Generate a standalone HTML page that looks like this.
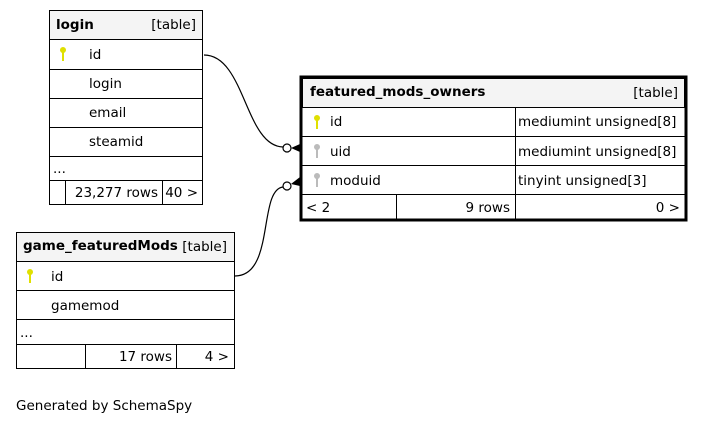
<!DOCTYPE html>
<html><head><meta charset="utf-8"><style>
html,body{margin:0;padding:0;background:#fff;}
svg text{font-family:"DejaVu Sans","Liberation Sans",sans-serif;font-size:13.5px;fill:#000;}
.b{font-weight:bold;}
</style></head><body>
<svg width="704" height="424" viewBox="0 0 704 424" xmlns="http://www.w3.org/2000/svg">
<defs>
<g id="key"><circle cx="0" cy="-4" r="3"/><rect x="-1" y="-2" width="2" height="9"/></g>
</defs>
<g fill="none" stroke="#000" stroke-width="1.2">
<path d="M204,55 C245,55 245,146 283,147"/>
<path d="M235,276 C275,276 258,190 283,187"/>
</g>
<g fill="#fff" stroke="#000" stroke-width="1.2">
<circle cx="287" cy="148" r="4"/>
<circle cx="287" cy="186" r="4"/>
</g>
<g fill="#000">
<polygon points="291,148 300,144 300,152"/>
<polygon points="291,184 300,177 300,186"/>
</g>

<g stroke="#000" stroke-width="1" fill="none">
<rect x="49.5" y="10.5" width="153" height="29" fill="#f4f4f4"/>
<rect x="49.5" y="10.5" width="153" height="194"/>
<line x1="49" y1="69.5" x2="203" y2="69.5"/>
<line x1="49" y1="98.5" x2="203" y2="98.5"/>
<line x1="49" y1="127.5" x2="203" y2="127.5"/>
<line x1="49" y1="156.5" x2="203" y2="156.5"/>
<line x1="49" y1="180.5" x2="203" y2="180.5"/>
<line x1="65.5" y1="180" x2="65.5" y2="205"/>
<line x1="162.5" y1="180" x2="162.5" y2="205"/>
</g>
<text x="56" y="29" class="b">login</text>
<text x="196" y="29" text-anchor="end">[table]</text>
<use href="#key" x="63" y="54" fill="#e0e000"/>
<text x="89" y="59">id</text>
<text x="89" y="88">login</text>
<text x="89" y="117">email</text>
<text x="89" y="146">steamid</text>
<text x="53" y="173">...</text>
<text x="158" y="197" text-anchor="end">23,277 rows</text>
<text x="198" y="197" text-anchor="end">40 &gt;</text>

<rect x="301" y="77" width="385" height="143" fill="none" stroke="#000" stroke-width="3"/>
<g stroke="#000" stroke-width="1" fill="none">
<rect x="302.5" y="78.5" width="382" height="29" fill="#f4f4f4"/>
<line x1="302" y1="136.5" x2="685" y2="136.5"/>
<line x1="302" y1="165.5" x2="685" y2="165.5"/>
<line x1="302" y1="194.5" x2="685" y2="194.5"/>
<line x1="515.5" y1="107" x2="515.5" y2="219"/>
<line x1="396.5" y1="194" x2="396.5" y2="219"/>
</g>
<text x="310" y="96" class="b">featured_mods_owners</text>
<text x="678" y="97" text-anchor="end">[table]</text>
<use href="#key" x="317" y="122" fill="#e0e000"/>
<text x="330" y="126">id</text>
<text x="518" y="126">mediumint unsigned[8]</text>
<use href="#key" x="317" y="151" fill="#bbb"/>
<text x="330" y="156">uid</text>
<text x="518" y="156">mediumint unsigned[8]</text>
<use href="#key" x="317" y="180" fill="#bbb"/>
<text x="330" y="185">moduid</text>
<text x="518" y="185">tinyint unsigned[3]</text>
<text x="306" y="212">&lt; 2</text>
<text x="510" y="212" text-anchor="end">9 rows</text>
<text x="680" y="212" text-anchor="end">0 &gt;</text>

<g stroke="#000" stroke-width="1" fill="none">
<rect x="16.5" y="232.5" width="218" height="29" fill="#f4f4f4"/>
<rect x="16.5" y="232.5" width="218" height="136"/>
<line x1="16" y1="290.5" x2="235" y2="290.5"/>
<line x1="16" y1="319.5" x2="235" y2="319.5"/>
<line x1="16" y1="344.5" x2="235" y2="344.5"/>
<line x1="85.5" y1="344" x2="85.5" y2="369"/>
<line x1="176.5" y1="344" x2="176.5" y2="369"/>
</g>
<text x="23" y="250" class="b">game_featuredMods</text>
<text x="227" y="251" text-anchor="end">[table]</text>
<use href="#key" x="30" y="276" fill="#e0e000"/>
<text x="51" y="281">id</text>
<text x="51" y="310">gamemod</text>
<text x="20" y="337">...</text>
<text x="172" y="361" text-anchor="end">17 rows</text>
<text x="229" y="361" text-anchor="end">4 &gt;</text>

<text x="16" y="410">Generated by SchemaSpy</text>
</svg>
</body></html>
